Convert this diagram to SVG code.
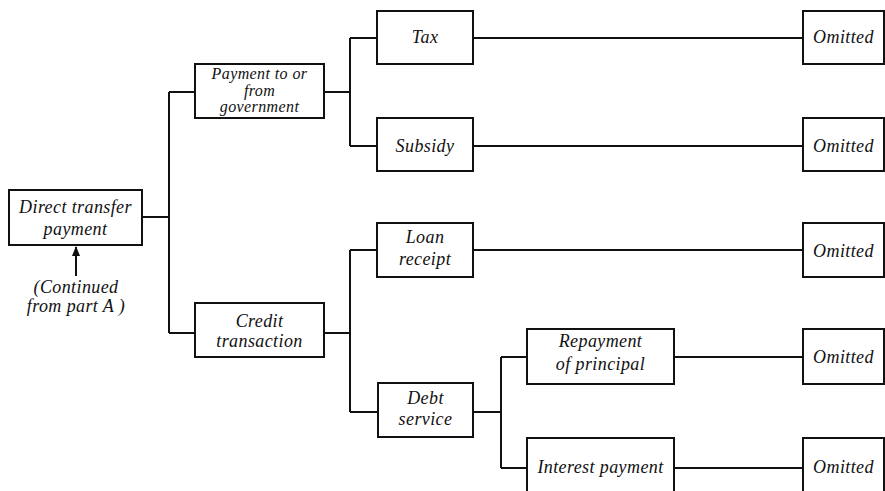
<svg xmlns="http://www.w3.org/2000/svg" width="885" height="491" viewBox="0 0 885 491">
<defs>
<style>
.box{fill:#fff;stroke:#111;stroke-width:2}
.ln{fill:none;stroke:#111;stroke-width:2}
text{font-family:"Liberation Serif",serif;font-style:italic;font-size:18px;fill:#111;text-anchor:middle;letter-spacing:0.4px}
text.sm{font-size:16px}
</style>
<marker id="ah" viewBox="0 0 10 10" refX="9" refY="5" markerWidth="5" markerHeight="5" orient="auto"><path d="M0,1 L10,5 L0,9 Z" fill="#111"/></marker>
</defs>
<rect width="885" height="491" fill="#fff"/>
<g id="connectors">
<path class="ln" d="M142,217 H169 M169,92 V333 M169,92 H195 M169,333 H195"/>
<path class="ln" d="M324,92 H350 M350,38 V146 M350,38 H377 M350,146 H377"/>
<path class="ln" d="M324,333 H350 M350,250 V412 M350,250 H377 M350,412 H378"/>
<path class="ln" d="M473,412 H501 M501,357 V468 M501,357 H527 M501,468 H527"/>
<path class="ln" d="M473,38 H803 M473,146 H803 M473,250 H803 M674,357 H803 M674,468 H803"/>
<path class="ln" d="M76,276 V247" marker-end="url(#ah)"/>
</g>
<g id="n-direct"><rect class="box" x="9" y="190" width="133" height="55"/><text x="75.5" y="213">Direct transfer</text><text x="75.5" y="235">payment</text></g>
<g id="n-continued"><text x="76" y="293">(Continued</text><text x="76" y="312">from part A )</text></g>
<g id="n-payment"><rect class="box" x="195" y="64" width="129" height="54"/><text class="sm" x="259.5" y="79">Payment to or</text><text class="sm" x="259.5" y="96">from</text><text class="sm" x="259.5" y="112">government</text></g>
<g id="n-credit"><rect class="box" x="195" y="303" width="129" height="54"/><text x="259.5" y="327">Credit</text><text x="259.5" y="347">transaction</text></g>
<g id="n-tax"><rect class="box" x="377" y="11" width="96" height="53"/><text x="425" y="43">Tax</text></g>
<g id="n-subsidy"><rect class="box" x="377" y="118" width="96" height="53"/><text x="425" y="152">Subsidy</text></g>
<g id="n-loan"><rect class="box" x="377" y="223" width="96" height="54"/><text x="425" y="243">Loan</text><text x="425" y="265">receipt</text></g>
<g id="n-debt"><rect class="box" x="378" y="383" width="95" height="54"/><text x="425.5" y="404">Debt</text><text x="425.5" y="425">service</text></g>
<g id="n-repay"><rect class="box" x="527" y="329" width="147" height="55"/><text x="600.5" y="347">Repayment</text><text x="600.5" y="370">of principal</text></g>
<g id="n-interest"><rect class="box" x="527" y="438" width="147" height="60"/><text x="600.5" y="473">Interest payment</text></g>
<g id="n-om1"><rect class="box" x="803" y="11" width="81" height="53"/><text x="843.5" y="43">Omitted</text></g>
<g id="n-om2"><rect class="box" x="803" y="118" width="81" height="53"/><text x="843.5" y="152">Omitted</text></g>
<g id="n-om3"><rect class="box" x="803" y="223" width="81" height="54"/><text x="843.5" y="257">Omitted</text></g>
<g id="n-om4"><rect class="box" x="803" y="329" width="81" height="55"/><text x="843.5" y="363">Omitted</text></g>
<g id="n-om5"><rect class="box" x="803" y="438" width="81" height="60"/><text x="843.5" y="473">Omitted</text></g>
</svg>
